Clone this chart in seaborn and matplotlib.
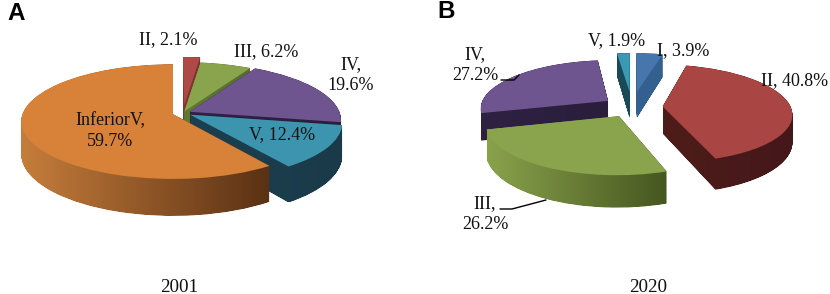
import numpy as np
import matplotlib
matplotlib.use("Agg")
import matplotlib.pyplot as plt
import matplotlib.transforms as mtrans
from matplotlib.path import Path
import seaborn as sns

# Data (percent of sites per grade)
names_2001 = ["II", "III", "IV", "V", "InferiorV"]
values_2001 = [2.1, 6.2, 19.6, 12.4, 59.7]
explode_2001 = [0.15, 0.03, 0.05, 0.055, 0.07]

names_2020 = ["I", "II", "III", "IV", "V"]
values_2020 = [3.9, 40.8, 26.2, 27.2, 1.9]
explode_2020 = [0.33, 0.24, 0.21, 0.23, 0.33]

# Colours: top face, side gradient start, side gradient end
colors_2001 = ["#AD4A48", "#8AA44E", "#6F5590", "#3D94AE", "#D88139"]
sides_2001 = [("#8A3634", "#7A2E2C"), ("#5F7A30", "#566E2A"), ("#2E2142", "#2A1E3C"),
              ("#1C4050", "#1A3A49"), ("#C67D3B", "#5A3114")]
colors_2020 = ["#4676AB", "#A94543", "#8AA34D", "#6F5590", "#3A9AB4"]
sides_2020 = [("#34608F", "#34608F"), ("#4E1D1B", "#45171A"), ("#8AA24C", "#45561F"),
              ("#2E2142", "#2A1E3C"), ("#1A4A58", "#1A4A58")]

# Drawing order, back to front (indices in the lists above)
order_2001 = [0, 1, 2, 3, 4]
order_2020 = [0, 4, 3, 1, 2]


class Tilt(mtrans.Transform):
    """Unit pie to image pixels, with a simple perspective around x0."""
    input_dims = 2
    output_dims = 2

    def __init__(self, cx, cy, rx, ry, k, x0=0, z=0):
        super().__init__()
        self.cx, self.cy, self.rx, self.ry = cx, cy, rx, ry
        self.k, self.x0, self.z = k, x0, z

    def transform_non_affine(self, values):
        x, y = values[:, 0], values[:, 1]
        w = 1 + self.k * y
        return np.column_stack([self.cx + self.rx * ((x - self.x0) / w + self.x0),
                                self.cy - (self.ry * y - self.z) / w])


def tilted_pie(ax, values, explode, colors, sides, order, cx, cy, rx, ry, k, x0, depth):
    wedges, _ = ax.pie(values, explode=explode, colors=colors, startangle=90,
                       counterclock=False, radius=1, wedgeprops={"linewidth": 0})
    top = Tilt(cx, cy, rx, ry, k, x0)
    for rank, i in enumerate(order):
        w = wedges[i]
        w.set_transform(top + ax.transData)
        w.set_zorder(2 * rank + 2)
        # side wall: the wedge swept downwards
        layers = [Tilt(cx, cy, rx, ry, k, x0, z).transform_path(w.get_path())
                  for z in np.arange(0, depth + 0.5, 0.5)]
        wall = Path.make_compound_path(*layers)
        box = wall.get_extents()
        cmap = sns.blend_palette(sides[i], as_cmap=True)
        im = ax.imshow(np.linspace(0, 1, 256)[None, :], cmap=cmap, aspect="auto",
                       extent=(box.x0, box.x1, box.y1, box.y0), zorder=2 * rank + 1)
        im.set_clip_path(wall, transform=ax.transData)


sns.set_theme(style="white")
serif = "Liberation Serif"

fig = plt.figure(figsize=(8.3, 2.94), dpi=100)
ax = fig.add_axes([0, 0, 1, 1])

tilted_pie(ax, values_2001, explode_2001, colors_2001, sides_2001, order_2001,
           183, 113, 150, 56, 0.13, -0.067, 32)
tilted_pie(ax, values_2020, explode_2020, colors_2020, sides_2020, order_2020,
           632, 107, 128, 48, 0.14, 0, 27)

ax.set_aspect("auto")
ax.set_xlim(0, 830)
ax.set_ylim(294, 0)
ax.axis("off")

# Labels
labels_2001 = [f"{n}, {v}%" for n, v in zip(names_2001, values_2001)]
labels_2001[2] = labels_2001[2].replace(", ", ",\n")
labels_2001[4] = labels_2001[4].replace(", ", ",\n")
xy_2001 = [(168, 40), (266, 52), (351, 75), (282, 135), (110, 131)]

labels_2020 = [f"{n}, {v}%" for n, v in zip(names_2020, values_2020)]
labels_2020[2] = labels_2020[2].replace(", ", ",\n")
labels_2020[3] = labels_2020[3].replace(", ", ",\n")
xy_2020 = [(683, 51), (795, 81), (485, 214), (475, 65), (617, 41)]

for txt, (x, y) in zip(labels_2001 + labels_2020, xy_2001 + xy_2020):
    ax.text(x, y, txt, ha="center", va="center", family=serif, fontsize=13,
            color="#111111", linespacing=1.3, zorder=30)

ax.text(179, 287, "2001", ha="center", va="center", family=serif, fontsize=13.8, color="#111111")
ax.text(648, 287, "2020", ha="center", va="center", family=serif, fontsize=13.8, color="#111111")
ax.text(7, 13, "A", ha="left", va="center", family="Liberation Sans", fontsize=17.5,
        fontweight="bold", color="black")
ax.text(437, 11, "B", ha="left", va="center", family="Liberation Sans", fontsize=17.5,
        fontweight="bold", color="black")

# Leader lines
ax.plot([501, 514, 519], [80, 80, 75], color="black", lw=1, zorder=30)
ax.plot([500, 512, 546], [209, 209, 200], color="black", lw=1, zorder=30)

fig.savefig("out.png", dpi=100)
